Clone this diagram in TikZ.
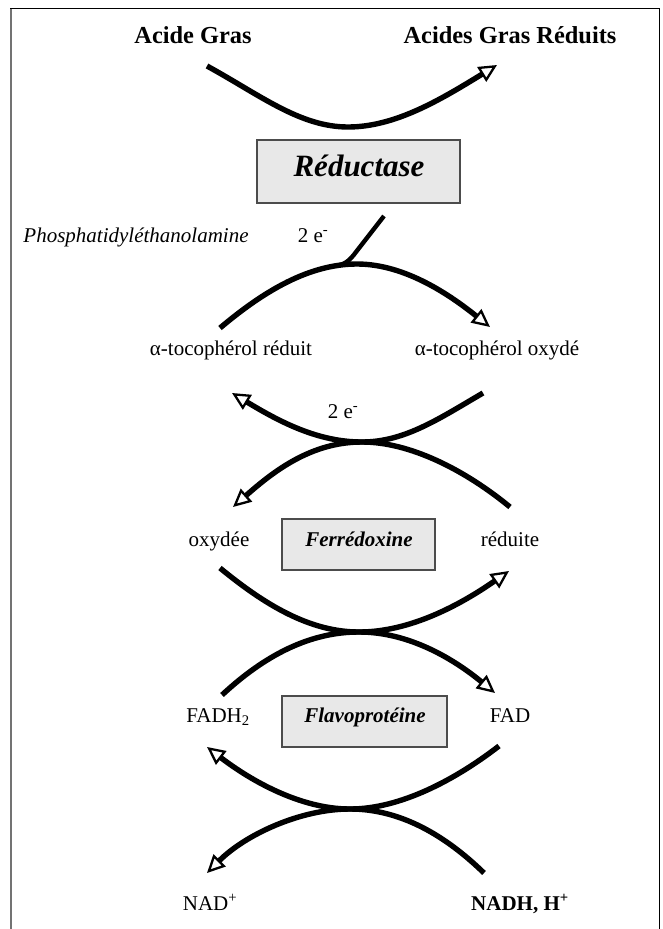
\documentclass[tikz,border=0pt]{standalone}
\usepackage{fontspec}
\setmainfont{Liberation Serif}
\usetikzlibrary{arrows.meta}
\begin{document}
\begin{tikzpicture}[x=1pt,y=-1pt,
  curve/.style={line width=5.4pt},
  tip/.style={-{Triangle[open,length=18pt,width=17pt,line width=2.3pt]}},
  enz/.style={draw=black!70,line width=1.3pt,fill=black!9},
  big/.style={font=\fontsize{24.4}{28}\selectfont\bfseries,anchor=base},
  lab/.style={font=\fontsize{21}{25}\selectfont,anchor=base},
  enzlab/.style={font=\fontsize{21}{25}\selectfont\bfseries\itshape,anchor=base}
]
\useasboundingbox (0,0) rectangle (662,929);
% frame
\draw[black!55,line width=2pt] (10.5,8.5) -- (10.5,929);
\draw[black,line width=1.5pt] (10,8.5) -- (659.5,8.5) -- (659.5,929);

% texts
\node[big] (ag) at (193,43.5) {Acide Gras};
\node[big] (agr) at (510,43.5) {Acides Gras Réduits};
\draw[enz] (257,140) rectangle (460,203);
\node[font=\fontsize{31}{36}\selectfont\bfseries\itshape,anchor=base] (red) at (359,176) {Réductase};
\node[lab,font=\fontsize{21}{25}\selectfont\itshape] (pe) at (136,242) {Phosphatidyléthanolamine};
\node[lab] (e1) at (313,242) {2 e\textsuperscript{-}};
\node[lab] (tr) at (231,355) {α-tocophérol réduit};
\node[lab] (to) at (497,355) {α-tocophérol oxydé};
\node[lab] (e2) at (343,418) {2 e\textsuperscript{-}};
\node[lab] (ox) at (219,546) {oxydée};
\draw[enz] (282,519) rectangle (435,570);
\node[enzlab] (fer) at (359,546) {Ferrédoxine};
\node[lab] (rd) at (510,546) {réduite};
\node[lab] (fadh) at (218,722) {FADH\textsubscript{2}};
\draw[enz] (282,696) rectangle (447,747);
\node[enzlab] (fla) at (365,722) {Flavoprotéine};
\node[lab] (fad) at (510,722) {FAD};
\node[lab] (nad) at (210,910) {NAD\textsuperscript{+}};
\node[lab,font=\fontsize{21}{25}\selectfont\bfseries] (nadh) at (520,910) {NADH, H\textsuperscript{+}};

% coordinates
\coordinate (a1s) at (207,66);
\coordinate (a1e) at (497,65);
\coordinate (a2s) at (220,328);
\coordinate (a2e) at (490,327);
\coordinate (bs) at (384,216);
\coordinate (bj) at (336,266);
\coordinate (p2us) at (483,393);
\coordinate (p2ue) at (232,393);
\coordinate (p2ls) at (510,507);
\coordinate (p2le) at (233,507);
\coordinate (p3us) at (220,568);
\coordinate (p3ue) at (509,571);
\coordinate (p3ls) at (222,695);
\coordinate (p3le) at (495,693);
\coordinate (p4us) at (499,746);
\coordinate (p4ue) at (207,747);
\coordinate (p4ls) at (484,873);
\coordinate (p4le) at (207,873);

% curves
\draw[curve,tip] (a1s) .. controls (260,95) and (300,127) .. (348,127) .. controls (395,127) and (440,100) .. (a1e);
\draw[curve,tip] (a2s) .. controls (265,290) and (310,264) .. (357,264) .. controls (405,264) and (450,295) .. (a2e);
\draw[curve,line width=4.4pt] (bs) -- (356,252) .. controls (350,260) and (346,264) .. (bj);

\draw[curve,tip] (p2us) .. controls (440,418) and (405,442) .. (362,442) .. controls (318,442) and (280,422) .. (p2ue);
\draw[curve,tip] (p2ls) .. controls (465,470) and (410,442) .. (362,442) .. controls (312,442) and (275,470) .. (p2le);

\draw[curve,tip] (p3us) .. controls (265,605) and (310,632) .. (359,632) .. controls (410,632) and (460,605) .. (p3ue);
\draw[curve,tip] (p3ls) .. controls (265,655) and (310,632) .. (359,632) .. controls (410,632) and (455,660) .. (p3le);

\draw[curve,tip] (p4us) .. controls (455,780) and (400,809) .. (350,809) .. controls (300,809) and (250,780) .. (p4ue);
\draw[curve,tip] (p4ls) .. controls (445,835) and (400,809) .. (350,809) .. controls (300,809) and (245,835) .. (p4le);
\end{tikzpicture}
\end{document}
